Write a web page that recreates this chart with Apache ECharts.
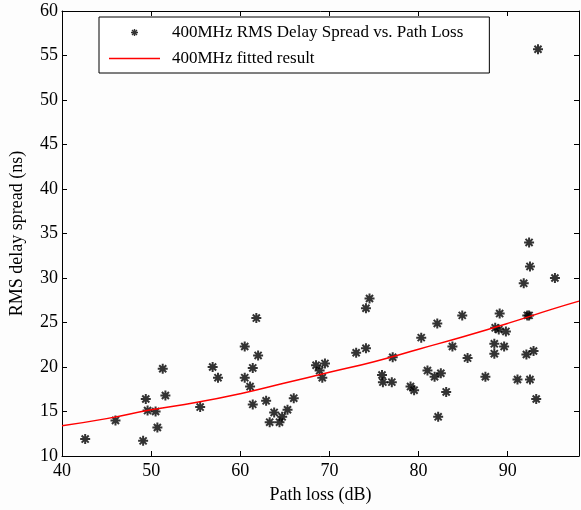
<!doctype html>
<html>
<head>
<meta charset="utf-8">
<script src="https://cdn.jsdelivr.net/npm/echarts@6/dist/echarts.min.js"></script>
<style>
  html, body { margin: 0; padding: 0; background: #fdfdfd; }
  #main { width: 581px; height: 510px; }
</style>
</head>
<body>
<div id="main"></div>
<script type="text/javascript">
// measured points: path loss (dB) and RMS delay spread (ns)
var pathLoss = [42.6, 46.0, 49.1, 49.4, 49.6, 50.5, 50.7, 51.3, 51.6, 55.5, 56.9, 57.5,
    60.5, 60.5, 61.4, 61.1, 61.8, 62.0, 61.4, 62.9, 63.8, 63.3, 64.4, 64.7, 65.3, 66.0,
    68.5, 68.9, 69.2, 69.5, 73.0, 74.1, 74.5, 74.1, 75.9, 76.0, 77.0, 77.1,
    79.1, 79.5, 80.3, 81.0, 81.8, 82.5, 82.1, 82.2, 83.1, 83.8, 84.9, 85.5,
    87.5, 88.5, 88.5, 88.6, 89.0, 89.1, 89.6, 89.8, 91.1, 91.8, 92.1, 92.2, 92.4,
    92.4, 92.5, 92.5, 92.9, 93.2, 95.3, 93.4];
var delaySpread = [11.9, 14.0, 11.7, 16.4, 15.1, 15.0, 13.2, 19.8, 16.8, 15.5, 20.0, 18.8,
    22.3, 18.8, 19.9, 17.8, 25.5, 21.3, 15.8, 16.2, 14.9, 13.8, 13.8, 14.4, 15.2, 16.5,
    20.2, 19.6, 18.8, 20.4, 21.6, 26.6, 27.7, 22.1, 19.1, 18.3, 18.3, 21.1,
    17.8, 17.4, 23.3, 19.6, 18.9, 19.3, 24.9, 14.4, 17.2, 22.3, 25.8, 21.0,
    18.9, 22.6, 21.5, 24.4, 24.2, 26.0, 22.3, 24.0, 18.6, 29.4, 21.4, 25.8, 25.8,
    34.0, 31.3, 18.6, 21.8, 16.4, 30.0, 55.7];

// fitted curve
var fitX = [40, 45, 50, 55, 60, 65, 70, 75, 80, 85, 90, 95, 98];
var fitY = [13.4, 14.2, 15.2, 16.0, 17.0, 18.2, 19.4, 20.6, 22.0, 23.4, 24.9, 26.5, 27.4];

var seriesNames = ['400MHz RMS Delay Spread vs. Path Loss', '400MHz fitted result'];

var starPath = 'path://M-1,-5 L1,-5 L1,5 L-1,5 Z M-5,-1 L5,-1 L5,1 L-5,1 Z ' +
    'M-4.24,-2.83 L-2.83,-4.24 L4.24,2.83 L2.83,4.24 Z ' +
    'M-2.83,4.24 L-4.24,2.83 L2.83,-4.24 L4.24,-2.83 Z';
var linePath = 'path://M0,0 L50,0 L50,1.5 L0,1.5 Z';

var scatterData = pathLoss.map(function (x, i) { return [x, delaySpread[i]]; });
var fitData = fitX.map(function (x, i) { return [x, fitY[i]]; });

var font = 'Liberation Serif';
var myChart = echarts.init(document.getElementById('main'));
var option = {
    backgroundColor: '#fdfdfd',
    animation: false,
    textStyle: { fontFamily: font, color: '#000' },
    grid: { left: 62, right: 2, top: 11, bottom: 54 },
    legend: {
        orient: 'vertical',
        left: 99,
        top: 17,
        padding: [7, 26, 6, 10],
        itemGap: 9,
        itemWidth: 51,
        itemHeight: 7,
        backgroundColor: '#fff',
        borderColor: '#000',
        borderWidth: 1,
        borderRadius: 0,
        textStyle: { fontFamily: font, fontSize: 17, color: '#000', padding: [0, 0, 0, 7] },
        data: [
            { name: seriesNames[0], icon: starPath },
            { name: seriesNames[1], icon: linePath }
        ]
    },
    xAxis: [{
        type: 'value',
        min: 40, max: 98, interval: 10,
        name: 'Path loss (dB)',
        nameLocation: 'middle',
        nameGap: 30,
        nameTextStyle: { fontFamily: font, fontSize: 18, color: '#000' },
        axisLine: { lineStyle: { color: '#000', width: 1 } },
        axisTick: { inside: true, length: 5, lineStyle: { color: '#000' } },
        axisLabel: { fontFamily: font, fontSize: 18, color: '#000', margin: 6, showMaxLabel: false },
        splitLine: { show: false }
    }, {
        type: 'value',
        position: 'top',
        min: 40, max: 98, interval: 10,
        axisLine: { lineStyle: { color: '#000', width: 1 } },
        axisTick: { inside: true, length: 5, lineStyle: { color: '#000' } },
        axisLabel: { show: false },
        splitLine: { show: false }
    }],
    yAxis: [{
        type: 'value',
        min: 10, max: 60, interval: 5,
        name: 'RMS delay spread (ns)',
        nameLocation: 'middle',
        nameGap: 36,
        nameTextStyle: { fontFamily: font, fontSize: 18, color: '#000' },
        axisLine: { lineStyle: { color: '#000', width: 1 } },
        axisTick: { inside: true, length: 5, lineStyle: { color: '#000' } },
        axisLabel: { fontFamily: font, fontSize: 18, color: '#000', margin: 4 },
        splitLine: { show: false }
    }, {
        type: 'value',
        position: 'right',
        min: 10, max: 60, interval: 5,
        axisLine: { lineStyle: { color: '#000', width: 1 } },
        axisTick: { inside: true, length: 5, lineStyle: { color: '#000' } },
        axisLabel: { show: false },
        splitLine: { show: false }
    }],
    series: [{
        name: seriesNames[0],
        type: 'scatter',
        symbol: starPath,
        symbolSize: 10,
        itemStyle: { color: '#000' },
        data: scatterData
    }, {
        name: seriesNames[1],
        type: 'line',
        smooth: true,
        symbol: 'none',
        lineStyle: { color: '#ff0000', width: 1.5 },
        itemStyle: { color: '#ff0000' },
        data: fitData
    }]
};
myChart.setOption(option);
</script>
</body>
</html>
